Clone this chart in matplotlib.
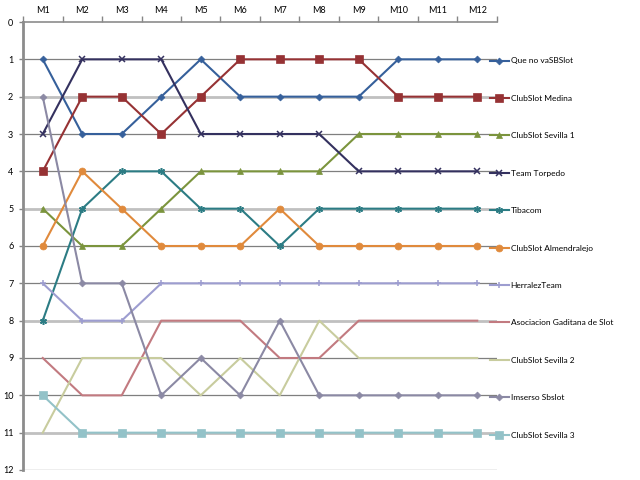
import matplotlib.pyplot as plt
import matplotlib.transforms as mtransforms

plt.rcParams['font.family'] = ['Lato', 'DejaVu Sans']

months = ['M1', 'M2', 'M3', 'M4', 'M5', 'M6', 'M7', 'M8', 'M9', 'M10', 'M11', 'M12']

que_no_va = [1, 3, 3, 2, 1, 2, 2, 2, 2, 1, 1, 1]
medina = [4, 2, 2, 3, 2, 1, 1, 1, 1, 2, 2, 2]
sevilla1 = [5, 6, 6, 5, 4, 4, 4, 4, 3, 3, 3, 3]
torpedo = [3, 1, 1, 1, 3, 3, 3, 3, 4, 4, 4, 4]
tibacom = [8, 5, 4, 4, 5, 5, 6, 5, 5, 5, 5, 5]
almendralejo = [6, 4, 5, 6, 6, 6, 5, 6, 6, 6, 6, 6]
herralez = [7, 8, 8, 7, 7, 7, 7, 7, 7, 7, 7, 7]
gaditana = [9, 10, 10, 8, 8, 8, 9, 9, 8, 8, 8, 8]
sevilla2 = [11, 9, 9, 9, 10, 9, 10, 8, 9, 9, 9, 9]
imserso = [2, 7, 7, 10, 9, 10, 8, 10, 10, 10, 10, 10]
sevilla3 = [10, 11, 11, 11, 11, 11, 11, 11, 11, 11, 11, 11]

names = ['Que no vaSBSlot', 'ClubSlot Medina', 'ClubSlot Sevilla 1', 'Team Torpedo',
         'Tibacom', 'ClubSlot Almendralejo', 'HerralezTeam',
         'Asociacion Gaditana de Slot', 'ClubSlot Sevilla 2', 'Imserso Sbslot',
         'ClubSlot Sevilla 3']
series = [que_no_va, medina, sevilla1, torpedo, tibacom, almendralejo, herralez,
          gaditana, sevilla2, imserso, sevilla3]
colors = ['#36609b', '#963234', '#7b943d', '#34315f', '#2c7c84', '#e08a3c',
          '#9d9dd0', '#c27a80', '#c8cc9e', '#8b89a4', '#93c2c8']
markers = ['D', 's', '^', 'x', (6, 2, 0), 'o', '+', None, None, 'D', 's']
msizes = [3.5, 5.5, 4.5, 5, 5, 5, 5, 0, 0, 3.5, 5.5]

fig = plt.figure(figsize=(6.4, 4.8), dpi=100)
ax = fig.add_axes([23 / 640, 1 - 470 / 480, 474 / 640, 448 / 480])

x = list(range(len(months)))

# horizontal grid, some rows lighter and thicker like the original
for r in range(1, 13):
    if r in (2, 5, 8, 11):
        ax.axhline(r, color='#c0c0c0', lw=2.0, zorder=1)
    else:
        ax.axhline(r, color='#7f7f7f', lw=0.9, zorder=1)

for name, vals, c, m, ms in zip(names, series, colors, markers, msizes):
    ax.plot(x, vals, color=c, lw=1.5, marker=m, markersize=ms,
            markeredgewidth=1.1 if m in ('x', '+', (6, 2, 0)) else 0.5,
            markeredgecolor=c, label=name, zorder=3)

ax.set_xlim(-0.5, 11.5)
ax.set_ylim(12, 0)
ax.set_yticks(range(0, 13))
ax.xaxis.tick_top()
ax.set_xticks(x)
ax.set_xticklabels(months)
ax.set_xticks([i - 0.5 for i in range(13)], minor=True)
ax.tick_params(axis='x', which='major', length=0, pad=5, labelsize=6.5)
ax.tick_params(axis='x', which='minor', length=4, color='#868686', width=1)
ax.tick_params(axis='y', length=3, color='#868686', width=1, labelsize=6.5, pad=4)

for s in ('right', 'bottom'):
    ax.spines[s].set_visible(False)
ax.spines['left'].set_color('#8c8c8c')
ax.spines['left'].set_linewidth(2)
ax.spines['top'].set_color('#8c8c8c')
ax.spines['top'].set_linewidth(1.2)

trans = mtransforms.blended_transform_factory(ax.transAxes, ax.transData)
leg = ax.legend(loc='upper left', bbox_to_anchor=(0.985, 0.95), bbox_transform=trans,
                frameon=False, fontsize=6.0, labelspacing=3.65, handlelength=2.3,
                handletextpad=0.2, borderpad=0, borderaxespad=0)

fig.savefig('out.png', dpi=100)
